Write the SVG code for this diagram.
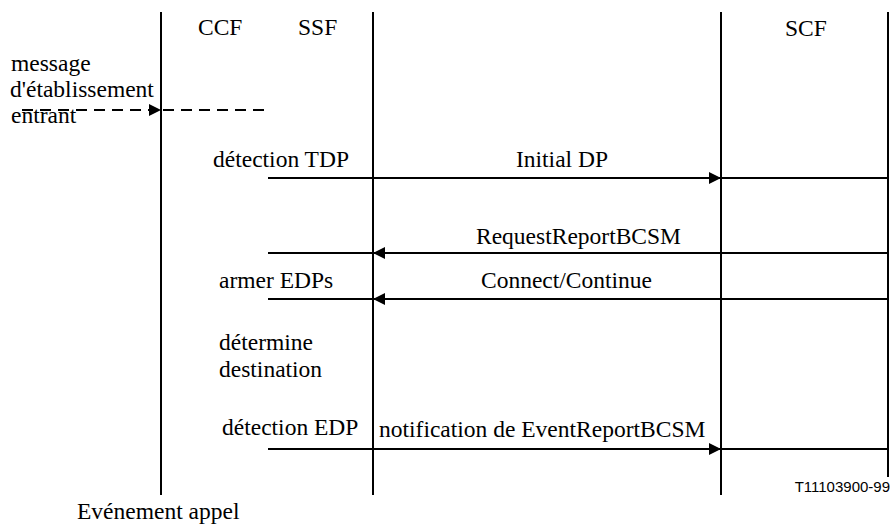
<svg xmlns="http://www.w3.org/2000/svg" width="893" height="524" viewBox="0 0 893 524">
<style>
text{font-family:'Liberation Serif','Times New Roman',Times,serif;font-size:23.5px;fill:#000}
.m{text-anchor:middle}
text.s{font-family:'Liberation Sans',Arial,sans-serif;font-size:15px;text-anchor:end}
.l{stroke:#000;stroke-width:2;fill:none}
</style>
<defs>
<marker id="ah" markerWidth="12" markerHeight="12" refX="12" refY="6" orient="auto" markerUnits="userSpaceOnUse">
<path d="M0,0 L12,6 L0,12 Z" fill="#000"/>
</marker>
</defs>
<rect width="893" height="524" fill="#fff"/>
<g id="lifelines">
<g id="ccf"><line class="l" x1="161" y1="12" x2="161" y2="495"/><text x="198" y="35" font-family="Liberation Serif">CCF</text></g>
<g id="ssf"><line class="l" x1="373" y1="12" x2="373" y2="495"/><text x="298" y="35" font-family="Liberation Serif">SSF</text></g>
<g id="scf"><line class="l" x1="721" y1="12" x2="721" y2="495"/><text x="785" y="36" font-family="Liberation Serif">SCF</text></g>
<g id="right"><line class="l" x1="888" y1="12" x2="888" y2="477"/></g>
</g>
<g id="connectors">
<line class="l" x1="22" y1="110" x2="161" y2="110" stroke-dasharray="11,7" marker-end="url(#ah)"/>
<line class="l" x1="163" y1="110" x2="268" y2="110" stroke-dasharray="11,7"/>
<line class="l" x1="268" y1="178" x2="721" y2="178" marker-end="url(#ah)"/>
<line class="l" x1="721" y1="178" x2="888" y2="178"/>
<line class="l" x1="888" y1="253" x2="373" y2="253" marker-end="url(#ah)"/>
<line class="l" x1="268" y1="253" x2="373" y2="253"/>
<line class="l" x1="888" y1="299" x2="373" y2="299" marker-end="url(#ah)"/>
<line class="l" x1="268" y1="299" x2="373" y2="299"/>
<line class="l" x1="268" y1="449" x2="721" y2="449" marker-end="url(#ah)"/>
<line class="l" x1="721" y1="449" x2="888" y2="449"/>
</g>
<g id="labels">
<text x="11" y="71" font-family="Liberation Serif">message</text>
<text x="10" y="97" font-family="Liberation Serif">d'établissement</text>
<text x="11" y="123" font-family="Liberation Serif">entrant</text>
<text x="213" y="167" font-family="Liberation Serif">détection TDP</text>
<text class="m" x="562" y="167" font-family="Liberation Serif">Initial DP</text>
<text class="m" x="578.5" y="244" font-family="Liberation Serif">RequestReportBCSM</text>
<text x="219" y="288" font-family="Liberation Serif">armer EDPs</text>
<text class="m" x="566.5" y="288" font-family="Liberation Serif">Connect/Continue</text>
<text x="219" y="350" font-family="Liberation Serif">détermine</text>
<text x="219" y="377" font-family="Liberation Serif">destination</text>
<text x="222" y="435" font-family="Liberation Serif">détection EDP</text>
<text x="379" y="437" font-family="Liberation Serif">notification de EventReportBCSM</text>
<text class="s" x="890" y="492" font-family="Liberation Sans">T11103900-99</text>
<text x="77" y="519" font-family="Liberation Serif">Evénement appel</text>
</g>
</svg>
